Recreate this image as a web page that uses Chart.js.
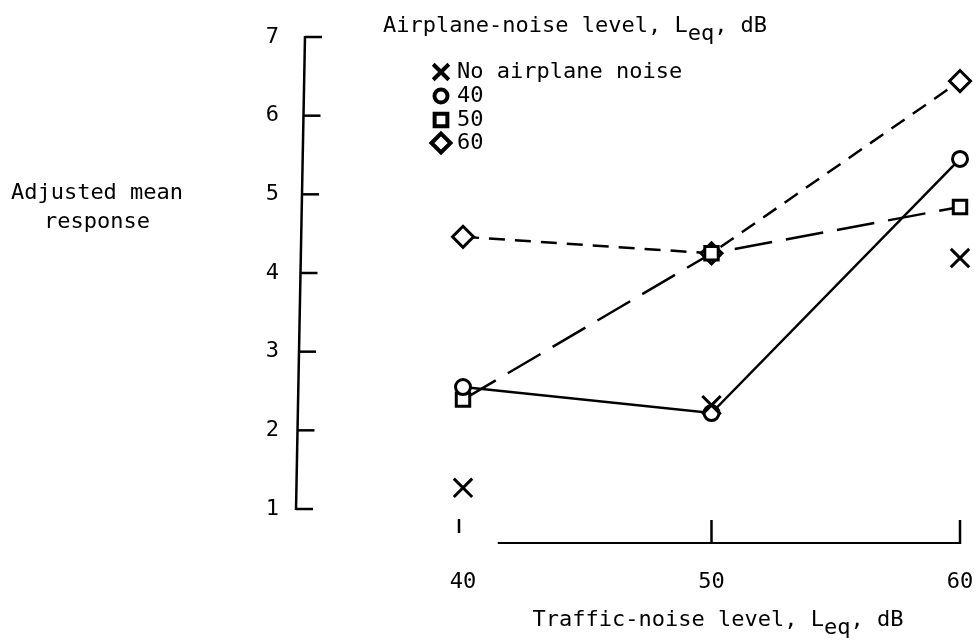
<!DOCTYPE html>
<html>
<head>
<meta charset="utf-8">
<script src="https://cdn.jsdelivr.net/npm/chart.js@4.4.1/dist/chart.umd.min.js"></script>
<style>
  html, body { margin: 0; padding: 0; background: #fff; }
  #wrap { width: 976px; height: 642px; position: relative; }
</style>
</head>
<body>
<div id="wrap"><canvas id="chart" width="976" height="642"></canvas></div>
<script>
// Traffic-noise levels (x) and adjusted mean response for each airplane-noise level
const trafficLevels = [40, 50, 60];
const seriesLabels = ['No airplane noise', '40', '50', '60'];
const noAirplane = [1.27, 2.32, 4.19];
const airplane40 = [2.55, 2.22, 5.45];
const airplane50 = [2.39, 4.25, 4.84];
const airplane60 = [4.46, 4.25, 6.44];
const yTickValues = [1, 2, 3, 4, 5, 6, 7];
const xTickValues = [40, 50, 60];

const FONT = '"DejaVu Sans Mono", "Liberation Mono", monospace';
const FSIZE = 22;

function pts(values) {
  return values.map((v, i) => ({ x: trafficLevels[i], y: v }));
}

const markerStyles = [
  { pointStyle: 'crossRot', radius: 13, legendRadius: 11 },
  { pointStyle: 'circle', radius: 7.5, legendRadius: 6.5 },
  { pointStyle: 'rect', radius: 9.5, legendRadius: 9 },
  { pointStyle: 'rectRot', radius: 10.5, legendRadius: 9.5 }
];

const seriesValues = [noAirplane, airplane40, airplane50, airplane60];
const lineDashes = [null, [], [38, 14], [16, 10]];

const datasets = seriesValues.map((vals, i) => ({
  label: seriesLabels[i],
  data: pts(vals),
  showLine: i !== 0,
  borderColor: '#000',
  borderWidth: 2.5,
  borderDash: lineDashes[i] || [],
  pointStyle: markerStyles[i].pointStyle,
  pointRadius: markerStyles[i].radius,
  pointBorderWidth: 3,
  pointBorderColor: '#000',
  pointBackgroundColor: '#fff',
  tension: 0,
  clip: false
}));

// Draws text runs where some parts sit lower as a subscript
function drawRuns(ctx, runs, x, y, align) {
  ctx.font = FSIZE + 'px ' + FONT;
  ctx.textBaseline = 'middle';
  ctx.textAlign = 'left';
  let total = 0;
  runs.forEach(r => { total += ctx.measureText(r.t).width; });
  let cx = align === 'center' ? x - total / 2 : x;
  runs.forEach(r => {
    ctx.fillText(r.t, cx, r.sub ? y + 8 : y);
    cx += ctx.measureText(r.t).width;
  });
}

const decorations = {
  id: 'decorations',
  afterDraw(chart) {
    const ctx = chart.ctx;
    const xs = chart.scales.x;
    const ys = chart.scales.y;
    const area = chart.chartArea;
    ctx.save();
    ctx.strokeStyle = '#000';
    ctx.fillStyle = '#000';
    ctx.lineCap = 'butt';

    // vertical axis (drawn with a slight lean) with ticks pointing right
    const axisAt = v => 296 + (v - 1) / 6 * 9;
    ctx.lineWidth = 2.5;
    ctx.beginPath();
    ctx.moveTo(axisAt(7), ys.getPixelForValue(7) - 1);
    ctx.lineTo(axisAt(1), ys.getPixelForValue(1) + 1);
    ctx.stroke();
    yTickValues.forEach(v => {
      const py = ys.getPixelForValue(v);
      ctx.beginPath();
      ctx.moveTo(axisAt(v), py);
      ctx.lineTo(axisAt(v) + 17, py);
      ctx.stroke();
    });

    // horizontal axis: baseline with upward tick marks
    const baseY = area.bottom + 34;
    ctx.lineWidth = 2;
    ctx.beginPath();
    ctx.moveTo(xs.getPixelForValue(41.4), baseY);
    ctx.lineTo(xs.getPixelForValue(60), baseY);
    ctx.stroke();
    ctx.lineWidth = 2.5;
    xTickValues.forEach((v, i) => {
      const px = xs.getPixelForValue(v);
      ctx.beginPath();
      if (i === 0) {
        ctx.moveTo(px - 4, baseY - 24);
        ctx.lineTo(px - 4, baseY - 10);
      } else {
        ctx.moveTo(px, baseY - 23);
        ctx.lineTo(px, baseY + 1);
      }
      ctx.stroke();
    });

    // axis titles
    ctx.font = FSIZE + 'px ' + FONT;
    ctx.textAlign = 'center';
    ctx.textBaseline = 'middle';
    ctx.fillText('Adjusted mean', 97, 193);
    ctx.fillText('response', 97, 222);
    drawRuns(ctx, [{ t: 'Traffic-noise level, L' }, { t: 'eq', sub: true }, { t: ', dB' }], 718, 620, 'center');

    // legend
    drawRuns(ctx, [{ t: 'Airplane-noise level, L' }, { t: 'eq', sub: true }, { t: ', dB' }], 383, 26, 'left');
    const rowY = [72, 96, 120, 143];
    chart.data.datasets.forEach((ds, i) => {
      ctx.lineWidth = 4;
      ctx.strokeStyle = '#000';
      ctx.fillStyle = '#fff';
      Chart.helpers.drawPoint(ctx, {
        pointStyle: ds.pointStyle,
        radius: markerStyles[i].legendRadius,
        rotation: 0,
        borderWidth: 4
      }, 441, rowY[i]);
      ctx.fillStyle = '#000';
      ctx.font = FSIZE + 'px ' + FONT;
      ctx.textAlign = 'left';
      ctx.textBaseline = 'middle';
      ctx.fillText(ds.label, 457, rowY[i]);
    });
    ctx.restore();
  }
};

Chart.defaults.font.family = FONT;
Chart.defaults.font.size = FSIZE;
Chart.defaults.color = '#000';

new Chart(document.getElementById('chart'), {
  type: 'line',
  data: { datasets },
  options: {
    responsive: false,
    animation: false,
    devicePixelRatio: 1,
    layout: { autoPadding: false, padding: { left: 0, right: 16, top: 37, bottom: 0 } },
    plugins: { legend: { display: false }, tooltip: { enabled: false } },
    scales: {
      x: {
        type: 'linear',
        min: 40,
        max: 60,
        grid: { display: false, drawTicks: false },
        border: { display: false },
        afterBuildTicks(scale) { scale.ticks = xTickValues.map(v => ({ value: v })); },
        afterFit(scale) {
          scale.height = 133;
          scale.paddingLeft = 0;
          scale.paddingRight = 0;
        },
        ticks: { padding: 60, maxRotation: 0, autoSkip: false }
      },
      y: {
        type: 'linear',
        min: 1,
        max: 7,
        grid: { display: false, drawTicks: false },
        border: { display: false },
        afterBuildTicks(scale) { scale.ticks = yTickValues.map(v => ({ value: v })); },
        afterFit(scale) {
          scale.width = 463;
          scale.paddingTop = 0;
          scale.paddingBottom = 0;
        },
        ticks: { padding: 184 }
      }
    }
  },
  plugins: [decorations]
});
</script>
</body>
</html>
